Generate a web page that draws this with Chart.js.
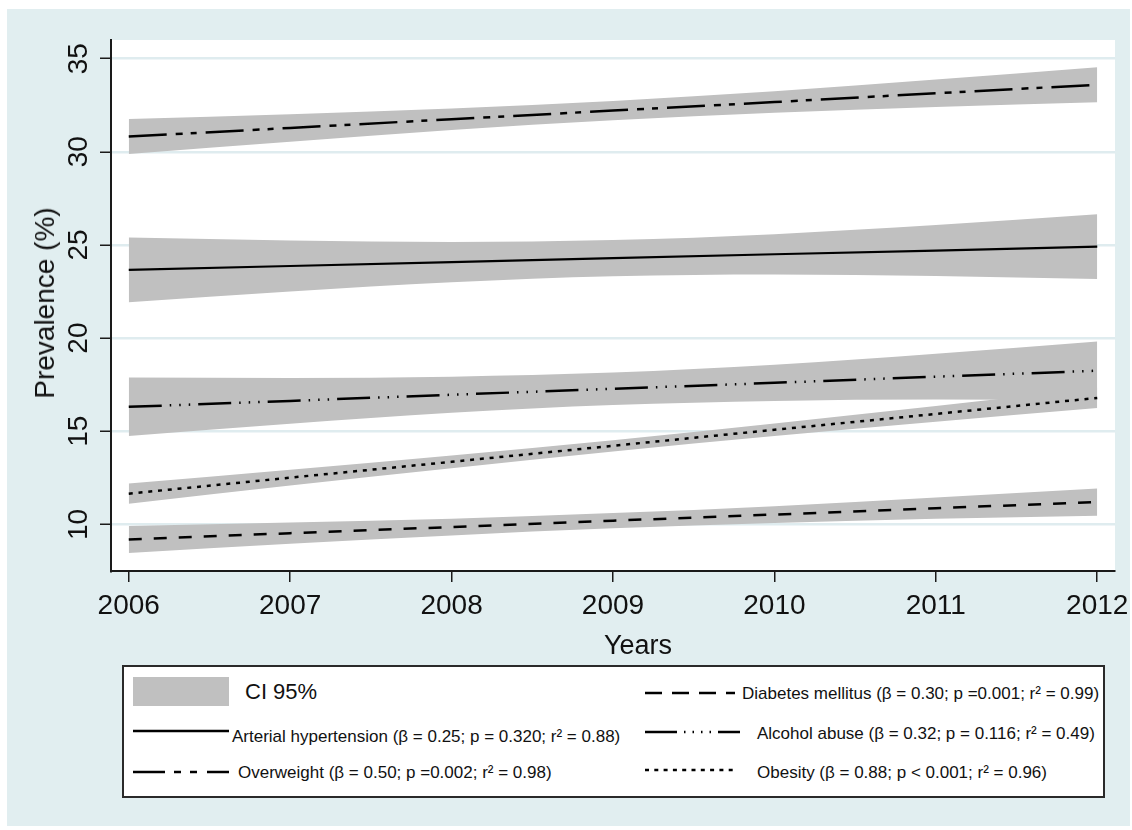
<!DOCTYPE html>
<html>
<head>
<meta charset="utf-8">
<script src="https://cdn.jsdelivr.net/npm/chart.js@4.4.1/dist/chart.umd.min.js"></script>
<style>
  html, body { margin: 0; padding: 0; background: #ffffff; }
  body { width: 1132px; height: 830px; position: relative; overflow: hidden;
         font-family: "Liberation Sans", Arial, sans-serif; color: #111; }
  #chart { position: absolute; left: 0; top: 0; }
  #ytitle { position: absolute; left: 45px; top: 303px; font-size: 28px; white-space: nowrap;
            transform: translate(-50%, -50%) rotate(-90deg); }
  #xtitle { position: absolute; left: 638px; top: 645px; font-size: 27px; white-space: nowrap;
            transform: translate(-50%, -50%); }
  #legbox { position: absolute; left: 122px; top: 665px; width: 979px; height: 129px;
            border: 2px solid #2a2a2a; background: #fff; }
  #legsvg { position: absolute; left: 0; top: 0; }
  .leg { position: absolute; font-size: 17px; white-space: nowrap; transform: translateY(-50%); line-height: 1; }
</style>
</head>
<body>
<canvas id="chart" width="1132" height="830"></canvas>
<div id="ytitle">Prevalence (%)</div>
<div id="xtitle">Years</div>
<div id="legbox"></div>
<svg id="legsvg" width="1132" height="830">
  <rect x="133" y="677" width="96" height="29" fill="#c0c0c0"/>
  <line x1="133" y1="731" x2="229" y2="731" stroke="#000" stroke-width="2.5"/>
  <line x1="133" y1="772" x2="229" y2="772" stroke="#000" stroke-width="2.5" stroke-dasharray="32 9 7 9 7 10 40"/>
  <line x1="645" y1="693" x2="735" y2="693" stroke="#000" stroke-width="2.5" stroke-dasharray="17 10"/>
  <line x1="645" y1="732" x2="740" y2="732" stroke="#000" stroke-width="2.5" stroke-dasharray="32 7 1.5 7 1.5 7 1.5 7 1.5 7 40"/>
  <line x1="645" y1="770" x2="738" y2="770" stroke="#000" stroke-width="2.5" stroke-dasharray="4 5.3"/>
</svg>
<div class="leg" style="left:245px; top:692px; font-size:22px;">CI 95%</div>
<div class="leg" style="left:232px; top:736px;">Arterial hypertension (β = 0.25; p = 0.320; r² = 0.88)</div>
<div class="leg" style="left:238px; top:772px;">Overweight (β = 0.50; p =0.002; r² = 0.98)</div>
<div class="leg" style="left:742px; top:693px;">Diabetes mellitus (β = 0.30; p =0.001; r² = 0.99)</div>
<div class="leg" style="left:757px; top:733px;">Alcohol abuse (β = 0.32; p = 0.116; r² = 0.49)</div>
<div class="leg" style="left:757px; top:772px;">Obesity (β = 0.88; p &lt; 0.001; r² = 0.96)</div>

<script>
// Survey years
const years = [2006, 2007, 2008, 2009, 2010, 2011, 2012];

// Fitted linear trends (prevalence, %)
const hypertension = [23.66, 23.87, 24.08, 24.29, 24.50, 24.70, 24.91];
const overweight   = [30.82, 31.28, 31.75, 32.21, 32.67, 33.14, 33.60];
const alcohol      = [16.31, 16.63, 16.96, 17.28, 17.60, 17.93, 18.25];
const obesity      = [11.65, 12.51, 13.36, 14.22, 15.08, 15.93, 16.79];
const diabetes     = [9.19, 9.53, 9.86, 10.20, 10.53, 10.87, 11.20];

// 95% confidence bands (upper / lower)
const hypertensionHi = [25.40, 25.24, 25.16, 25.26, 25.58, 26.07, 26.65];
const hypertensionLo = [21.92, 22.50, 23.00, 23.32, 23.42, 23.33, 23.17];
const overweightHi   = [31.76, 32.02, 32.33, 32.73, 33.25, 33.88, 34.54];
const overweightLo   = [29.88, 30.54, 31.17, 31.69, 32.09, 32.40, 32.66];
const alcoholHi      = [17.88, 17.86, 17.93, 18.15, 18.57, 19.16, 19.82];
const alcoholLo      = [14.74, 15.40, 15.99, 16.41, 16.63, 16.70, 16.68];
const obesityHi      = [12.19, 12.93, 13.70, 14.52, 15.42, 16.35, 17.33];
const obesityLo      = [11.11, 12.09, 13.02, 13.92, 14.74, 15.51, 16.25];
const diabetesHi     = [9.92, 10.10, 10.31, 10.61, 10.98, 11.44, 11.93];
const diabetesLo     = [8.46, 8.96, 9.41, 9.79, 10.08, 10.30, 10.47];

// Axis ticks
const xTicks = [2006, 2007, 2008, 2009, 2010, 2011, 2012];
const yTicks = [10, 15, 20, 25, 30, 35];

const pts = vals => years.map((x, i) => ({ x, y: vals[i] }));
const BAND = '#c0c0c0';

function band(hi, lo) {
  return [
    { data: pts(hi), fill: '+1', backgroundColor: BAND, borderWidth: 0, pointRadius: 0,
      cubicInterpolationMode: 'monotone', order: 2 },
    { data: pts(lo), fill: false, backgroundColor: BAND, borderWidth: 0, pointRadius: 0,
      cubicInterpolationMode: 'monotone', order: 2 }
  ];
}
function trend(vals, dash, width) {
  return { data: pts(vals), fill: false, borderColor: '#000', borderWidth: width || 2.5,
           borderDash: dash, borderCapStyle: 'butt', pointRadius: 0, tension: 0, order: 0 };
}

// Page background, outer panel and white plot region
const panelBg = {
  id: 'panelBg',
  beforeDraw(chart) {
    const { ctx, chartArea: a } = chart;
    ctx.save();
    ctx.fillStyle = '#ffffff';
    ctx.fillRect(0, 0, chart.width, chart.height);
    ctx.fillStyle = '#e1eef0';
    ctx.fillRect(7, 9, 1123, 817);
    ctx.fillStyle = '#ffffff';
    ctx.fillRect(a.left, a.top, a.right - a.left, a.bottom - a.top);
    ctx.restore();
  }
};

const FONT = '"Liberation Sans", Arial, sans-serif';

new Chart(document.getElementById('chart'), {
  type: 'line',
  data: {
    datasets: [
      ...band(hypertensionHi, hypertensionLo),
      ...band(overweightHi, overweightLo),
      ...band(alcoholHi, alcoholLo),
      ...band(obesityHi, obesityLo),
      ...band(diabetesHi, diabetesLo),
      trend(hypertension, [], 2.2),
      trend(overweight, [38, 9, 7, 8, 6, 9]),
      trend(alcohol, [33, 8, 1.5, 8, 1.5, 8, 1.5, 8]),
      trend(obesity, [4, 5.8]),
      trend(diabetes, [13, 12])
    ]
  },
  options: {
    responsive: false,
    animation: false,
    events: [],
    layout: { padding: { left: 0, top: 40, right: 17, bottom: 199 } },
    plugins: {
      legend: { display: false },
      tooltip: { enabled: false },
      filler: { drawTime: 'beforeDatasetsDraw' }
    },
    scales: {
      x: {
        type: 'linear',
        min: 2005.89,
        max: 2012.11,
        afterBuildTicks: s => { s.ticks = xTicks.map(v => ({ value: v })); },
        afterFit: s => { s.height = 60; s.paddingLeft = 0; s.paddingRight = 0; },
        border: { display: true, color: '#1a1a1a', width: 2 },
        grid: { drawOnChartArea: false, drawTicks: true, tickLength: 11, tickColor: '#1a1a1a',
                tickWidth: 1.5, lineWidth: 1.5 },
        ticks: { color: '#111', font: { family: FONT, size: 28 },
                 padding: 7, maxRotation: 0, minRotation: 0, callback: v => String(v) }
      },
      y: {
        type: 'linear',
        min: 7.5,
        max: 36,
        afterBuildTicks: s => { s.ticks = yTicks.map(v => ({ value: v })); },
        afterFit: s => { s.width = 111; s.paddingTop = 0; s.paddingBottom = 0; },
        border: { display: true, color: '#1a1a1a', width: 2 },
        grid: { color: '#dfecef', lineWidth: 2.5, drawTicks: true, tickLength: 11,
                tickColor: '#1a1a1a', tickWidth: 1.5 },
        ticks: { color: '#111', font: { family: FONT, size: 28 },
                 padding: 5, minRotation: 90, maxRotation: 90, crossAlign: 'center',
                 callback: v => String(v) }
      }
    }
  },
  plugins: [panelBg]
});
</script>
</body>
</html>
